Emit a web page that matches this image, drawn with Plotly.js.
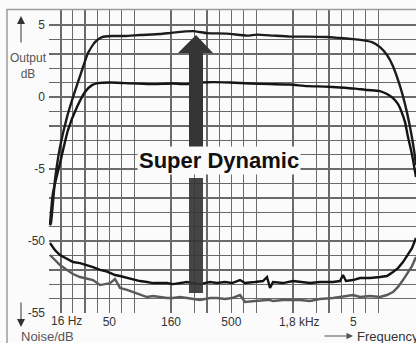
<!DOCTYPE html>
<html>
<head>
<meta charset="utf-8">
<script src="https://cdn.plot.ly/plotly-3.0.1.min.js"></script>
<style>
html,body{margin:0;padding:0;background:#fbfbfb;}
#chart{width:416px;height:343px;}
</style>
</head>
<body>
<div id="chart"></div>
<script>
// ---- Output (dB) curves ----
const freqOutHigh = [16.30,16.61,17.92,19.70,22.47,25.18,29.83,33.41,38.11,43.50,52.52,67.16,89.1,130.0,166.2,242.3,315.7,460.5,671.6,810.6,1097,1513,2084,3039,3882,4964,5885,7105,8267,9432,10562,12061,13253,14564,15710,16302];
const outHigh = [-8.89,-8.75,-5.76,-3.47,-1.39,0,1.88,3.06,3.82,4.17,4.24,4.24,4.31,4.38,4.48,4.58,4.44,4.41,4.27,4.34,4.27,4.20,4.20,4.17,4.10,4.03,3.96,3.82,3.47,2.92,2.15,0.76,-0.49,-2.08,-3.68,-4.72];

const freqOutLow = [16.30,17.24,19.70,22.89,27.14,31.55,36.01,40.33,50.6,67.16,107.6,166.2,208.3,276.6,353.6,487.6,710.6,1036,1513,2084,2926,3882,5155,6472,8267,9432,10562,11617,12525,13253,14023,14838,15415,16302];
const outLow = [-8.89,-6.67,-4.58,-2.29,-0.69,0.35,0.83,0.97,1.01,0.97,0.90,0.94,0.90,1.01,1.04,1.01,0.94,0.90,0.87,0.76,0.73,0.67,0.59,0.49,0.42,0.21,-0.07,-0.49,-1.11,-1.74,-2.78,-3.68,-4.38,-5.56];

// ---- Noise (dB) curves ----
const freqNoise = [16.30,17.92,19.69,22.47,25.18,28.72,32.78,36.71,41.89,46.05,50.60,55.60,61.11,69.75,78.10,89.12,101.7,113.9,130.0,148.4,166.1,189.6,216.4,242.4,276.6,334.0,381.3,443.4,506.0,588.5,646.9,781.0,908.3,979.7,1036.8,1097,1325,1600,1826,2205,2662,3405,3885,4110,4350,4965,5667,6843,8267,9434,10563,11610,12758,14021,15118,16302];
const noiseHigh = [-50.14,-50.63,-50.97,-51.25,-51.46,-51.53,-51.67,-51.81,-52.01,-52.08,-52.22,-52.36,-52.43,-52.57,-52.64,-52.78,-52.85,-52.92,-52.92,-52.92,-52.99,-52.92,-52.85,-52.92,-52.99,-52.85,-52.92,-52.85,-52.92,-52.71,-52.92,-52.85,-52.78,-52.50,-53.26,-52.85,-52.92,-52.78,-52.85,-52.92,-52.85,-52.85,-52.78,-52.36,-52.78,-52.71,-52.57,-52.57,-52.50,-52.43,-52.15,-51.88,-51.46,-50.90,-50.49,-49.79];
const noiseLow = [-50.97,-51.32,-51.67,-52.01,-52.29,-52.50,-52.64,-52.71,-53.06,-52.99,-52.92,-52.64,-53.26,-53.40,-53.54,-53.68,-53.89,-53.82,-53.89,-53.96,-53.96,-53.89,-53.96,-54.03,-54.10,-53.96,-53.96,-54.03,-53.96,-53.75,-54.24,-54.17,-54.10,-54.10,-54.10,-54.17,-54.10,-54.10,-54.10,-54.17,-54.03,-53.96,-53.89,-53.89,-53.82,-53.75,-53.89,-53.82,-53.89,-53.75,-53.54,-53.19,-52.71,-52.15,-51.74,-51.11];

// ---- Axis ticks ----
const xTickVals = [50,160,500,1800,5000,16000];
const xTickText = ['50','160','500','1,8 kHz','5','16'];
const xGridFreqs = [16,20,25,31.5,40,50,63,80,160,250,315,400,500,630,800,1600,2500,3150,4000,5000,6300,8000];
const yTickVals = [5,0,-5,-10,-15];
const yTickText = ['5','0','-5','-50','-55'];
// the axis is broken: the noise scale (-50..-55) is drawn 40 dB higher
const NOISE_OFFSET = 40;

const FONT = 'Liberation Sans, Arial, Helvetica, sans-serif';
const GRID = '#6a6a6a';
const XRANGE = [Math.log10(16), Math.log10(16) + 367/122];

const traces = [
  {x: freqNoise, y: noiseLow.map(v => v + NOISE_OFFSET), xaxis:'x2', mode:'lines', line:{color:'#5a5a5a', width:2.4}},
  {x: freqNoise, y: noiseHigh.map(v => v + NOISE_OFFSET), xaxis:'x2', mode:'lines', line:{color:'#141414', width:2.4}},
  {x: freqOutLow, y: outLow, mode:'lines', line:{color:'#141414', width:2.4, shape:'spline', smoothing:0.5}},
  {x: freqOutHigh, y: outHigh, mode:'lines', line:{color:'#1c1c1c', width:2.4, shape:'spline', smoothing:0.5}}
];

const px = x => (x - 49) / 367;
const py = y => (313 - y) / 303;

const layout = {
  width:416, height:343,
  margin:{l:49, r:0, t:10, b:30, pad:0},
  paper_bgcolor:'#fbfbfb', plot_bgcolor:'#fbfbfb',
  showlegend:false,
  font:{family:FONT, color:'#333'},
  xaxis:{
    type:'log', range:XRANGE,
    tickmode:'array', tickvals:xGridFreqs, showticklabels:false,
    showgrid:true, gridcolor:GRID, gridwidth:1.4,
    zeroline:false, showline:false, ticks:''
  },
  xaxis2:{
    type:'log', range:XRANGE, overlaying:'x', anchor:'y', side:'bottom',
    tickmode:'array', tickvals:xTickVals, ticktext:xTickText,
    showgrid:false, zeroline:false, showline:false, ticks:'',
    tickfont:{family:FONT, size:12, color:'#333'}
  },
  yaxis:{
    range:[-15, 6.05],
    tickmode:'array', tickvals:yTickVals, ticktext:yTickText,
    showgrid:true, gridcolor:GRID, gridwidth:1.4,
    zeroline:false, showline:false, ticks:'', ticklabelstandoff:3,
    tickfont:{family:FONT, size:12, color:'#333'},
    minor:{tickmode:'linear', tick0:0, dtick:1, showgrid:true, gridcolor:GRID, gridwidth:1.4, ticks:''}
  },
  shapes:[
    {type:'line', xref:'paper', yref:'paper', x0:px(7), x1:px(7), y0:py(9), y1:py(343), line:{color:'#9a9a9a', width:1.5}},
    {type:'line', xref:'paper', yref:'paper', x0:px(7), x1:1, y0:py(9.5), y1:py(9.5), line:{color:'#9a9a9a', width:1.5}},
    {type:'path', xref:'paper', yref:'paper', layer:'above',
     path:'M '+px(178)+' '+py(53)+' L '+px(196)+' '+py(35)+' L '+px(213)+' '+py(53)+' Z',
     fillcolor:'#353535', line:{width:0}},
    {type:'rect', xref:'paper', yref:'paper', layer:'above', x0:px(189), x1:px(203), y0:py(150), y1:py(53),
     fillcolor:'#353535', line:{width:0}},
    {type:'rect', xref:'paper', yref:'paper', layer:'above', x0:px(189), x1:px(203), y0:py(293), y1:py(178),
     fillcolor:'#353535', opacity:0.92, line:{width:0}}
  ],
  annotations:[
    {xref:'paper', yref:'paper', x:px(219), y:py(160), xanchor:'center', yanchor:'middle', text:'<b>Super Dynamic</b>', showarrow:false,
     font:{family:FONT, size:22, color:'#111'}, bgcolor:'#fbfbfb', borderpad:1},
    {xref:'paper', yref:'paper', x:px(28), y:py(66), xanchor:'center', yanchor:'middle', text:'Output<br>dB', showarrow:false,
     font:{family:FONT, size:12, color:'#555'}},
    {xref:'paper', yref:'paper', x:px(47), y:py(336), xanchor:'center', yanchor:'middle', text:'Noise/dB', showarrow:false,
     font:{family:FONT, size:13, color:'#555'}},
    {xref:'x', yref:'paper', x:Math.log10(16), xanchor:'left', yanchor:'middle', y:py(321), text:'16 Hz', showarrow:false,
     font:{family:FONT, size:12, color:'#333'}},
    {xref:'paper', yref:'paper', x:px(21), y:py(16), ax:0, ay:28, text:'', showarrow:true,
     arrowhead:2, arrowsize:1.6, arrowwidth:1, arrowcolor:'#333'},
    {xref:'paper', yref:'paper', x:px(21), y:py(327), ax:0, ay:-26, text:'', showarrow:true,
     arrowhead:2, arrowsize:1.6, arrowwidth:1, arrowcolor:'#333'},
    {xref:'paper', yref:'paper', x:px(353), y:py(336), ax:-30, ay:0, text:'', showarrow:true,
     arrowhead:2, arrowsize:1.3, arrowwidth:1, arrowcolor:'#555'},
    {xref:'paper', yref:'paper', x:px(355), xanchor:'left', yanchor:'middle', y:py(336), text:'Frequency', showarrow:false,
     font:{family:FONT, size:13, color:'#333'}}
  ]
};

Plotly.newPlot('chart', traces, layout, {staticPlot:true, displayModeBar:false});
</script>
</body>
</html>
